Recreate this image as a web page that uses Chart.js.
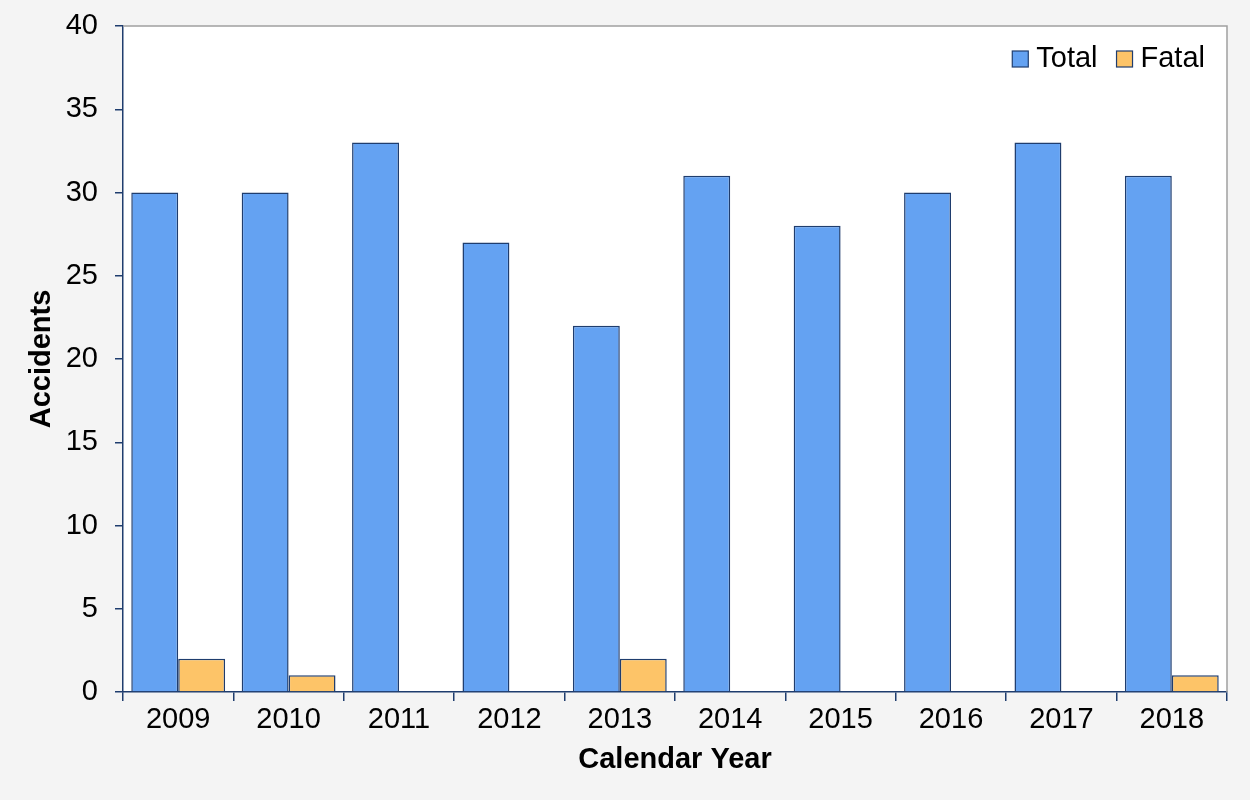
<!DOCTYPE html>
<html>
<head>
<meta charset="utf-8">
<script src="https://cdn.jsdelivr.net/npm/chart.js@4/dist/chart.umd.min.js"></script>
<style>
  html, body { margin: 0; padding: 0; background: #f4f4f4; }
  #wrap { width: 1250px; height: 800px; }
</style>
</head>
<body>
<div id="wrap"><canvas id="accChart"></canvas></div>
<script>
const years = ["2009","2010","2011","2012","2013","2014","2015","2016","2017","2018"];
const totalAcc = [30, 30, 33, 27, 22, 31, 28, 30, 33, 31];
const fatalAcc = [2, 1, 0, 0, 2, 0, 0, 0, 0, 1];
const yTicks = [0, 5, 10, 15, 20, 25, 30, 35, 40];

const navy = "#1f3d6e";
const fontFam = "'Liberation Sans', Arial, sans-serif";

// white plot area + grey top/right frame
const plotFrame = {
  id: "plotFrame",
  beforeDraw(chart) {
    const { ctx, chartArea: a } = chart;
    ctx.save();
    ctx.fillStyle = "#ffffff";
    ctx.fillRect(a.left, a.top, a.right - a.left, a.bottom - a.top);
    ctx.restore();
  },
  afterDraw(chart) {
    const { ctx, chartArea: a } = chart;
    ctx.save();
    ctx.strokeStyle = "#a0a0a0";
    ctx.lineWidth = 1.5;
    ctx.beginPath();
    ctx.moveTo(a.left, a.top);
    ctx.lineTo(a.right, a.top);
    ctx.lineTo(a.right, a.bottom);
    ctx.stroke();
    ctx.restore();
  }
};

// legend drawn inside the plot, top right
const innerLegend = {
  id: "innerLegend",
  afterDraw(chart) {
    const { ctx, chartArea: a } = chart;
    const sets = chart.data.datasets;
    ctx.save();
    ctx.font = "29px " + fontFam;
    ctx.textBaseline = "middle";
    let x = a.right - 22;
    const cy = a.top + 33;
    for (let i = sets.length - 1; i >= 0; i--) {
      const w = ctx.measureText(sets[i].label).width;
      x -= w;
      ctx.fillStyle = "#000";
      ctx.fillText(sets[i].label, x, cy);
      x -= 8 + 16;
      ctx.fillStyle = sets[i].backgroundColor;
      ctx.fillRect(x, cy - 8, 16, 16);
      ctx.strokeStyle = navy;
      ctx.lineWidth = 1.2;
      ctx.strokeRect(x, cy - 8, 16, 16);
      x -= 19;
    }
    ctx.restore();
  }
};

new Chart(document.getElementById("accChart"), {
  type: "bar",
  data: {
    labels: years,
    datasets: [
      { label: "Total", data: totalAcc, backgroundColor: "#64a2f2", borderColor: navy, borderWidth: 1.5,
        categoryPercentage: 0.85, barPercentage: 1.0 },
      { label: "Fatal", data: fatalAcc, backgroundColor: "#fdc468", borderColor: navy, borderWidth: 1.5,
        categoryPercentage: 0.85, barPercentage: 1.0 }
    ]
  },
  options: {
    responsive: true,
    maintainAspectRatio: false,
    animation: false,
    layout: { padding: { top: 26, right: 23, left: 0, bottom: 0 } },
    plugins: {
      legend: { display: false },
      tooltip: { enabled: false }
    },
    scales: {
      x: {
        afterFit(s) { s.height = 108; },
        grid: { drawOnChartArea: false, color: navy, tickLength: 9, lineWidth: 1.5, offset: true },
        border: { color: navy, width: 1.5 },
        ticks: { color: "#000", padding: 2, font: { family: fontFam, size: 29 } },
        title: { display: true, text: "Calendar Year", color: "#000",
          font: { family: fontFam, size: 29, weight: "bold" }, padding: { top: 0, bottom: 23 } }
      },
      y: {
        min: 0,
        max: 40,
        afterFit(s) { s.width = 123; s.paddingTop = 0; s.paddingBottom = 0; },
        afterBuildTicks(s) { s.ticks = yTicks.map(v => ({ value: v })); },
        grid: { drawOnChartArea: false, color: navy, tickLength: 8, lineWidth: 1.5 },
        border: { color: navy, width: 1.5 },
        ticks: { color: "#000", padding: 17, font: { family: fontFam, size: 29 } },
        title: { display: true, text: "Accidents", color: "#000",
          font: { family: fontFam, size: 29, weight: "bold" }, padding: { top: 25, bottom: 0 } }
      }
    }
  },
  plugins: [plotFrame, innerLegend]
});
</script>
</body>
</html>
